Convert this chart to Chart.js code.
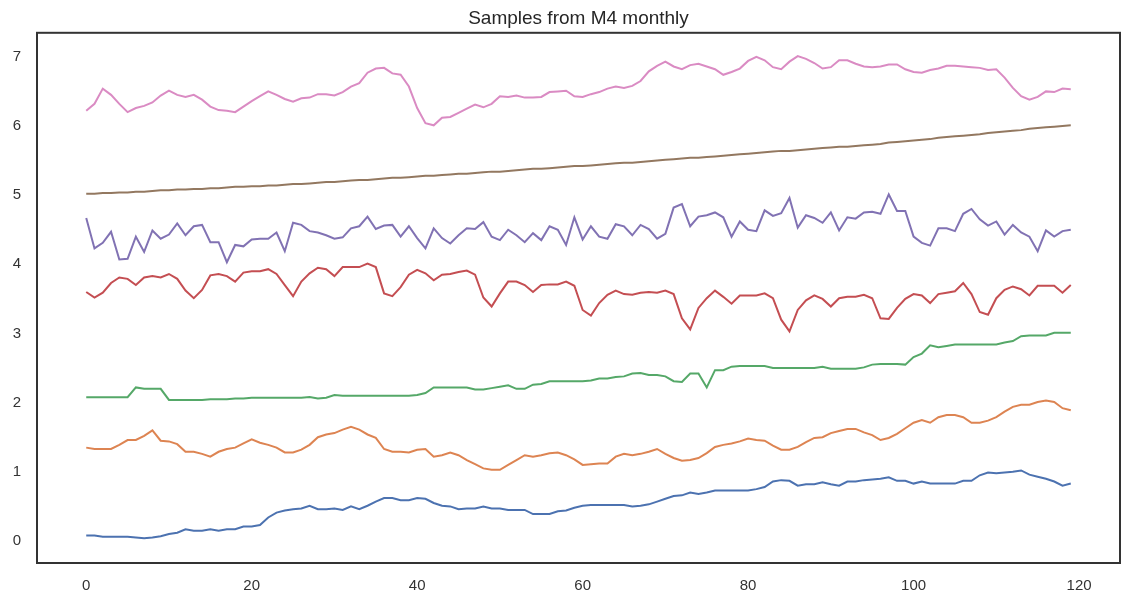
<!DOCTYPE html>
<html>
<head>
<meta charset="utf-8">
<title>Samples from M4 monthly</title>
<script src="https://cdn.jsdelivr.net/npm/chart.js@4.4.1/dist/chart.umd.min.js"></script>
<style>
  html, body { margin: 0; padding: 0; background: #fff; }
  canvas { display: block; }
</style>
</head>
<body>
<canvas id="chart" width="1122" height="594"></canvas>
<script>
// seven monthly series, one value per step 0..119
const blue = [
  0.08,0.08,0.06,0.06,0.06,0.06,0.05,0.04,0.05,0.07,
  0.10,0.12,0.17,0.15,0.15,0.17,0.15,0.17,0.17,0.21,
  0.21,0.23,0.34,0.41,0.44,0.46,0.47,0.51,0.46,0.46,
  0.47,0.45,0.50,0.46,0.51,0.57,0.62,0.62,0.59,0.59,
  0.62,0.61,0.55,0.51,0.50,0.46,0.47,0.47,0.50,0.47,
  0.47,0.45,0.45,0.45,0.39,0.39,0.39,0.43,0.44,0.48,
  0.51,0.52,0.52,0.52,0.52,0.52,0.50,0.51,0.53,0.57,
  0.61,0.65,0.66,0.70,0.68,0.70,0.73,0.73,0.73,0.73,
  0.73,0.75,0.78,0.86,0.88,0.87,0.80,0.82,0.82,0.85,
  0.82,0.80,0.86,0.86,0.88,0.89,0.90,0.92,0.87,0.87,
  0.83,0.86,0.83,0.83,0.83,0.83,0.87,0.87,0.95,0.99,
  0.98,0.99,1.00,1.02,0.96,0.93,0.90,0.86,0.80,0.83
];
const orange = [
  1.35,1.33,1.33,1.33,1.39,1.46,1.46,1.52,1.60,1.45,
  1.44,1.40,1.29,1.29,1.26,1.22,1.29,1.33,1.35,1.41,
  1.47,1.42,1.39,1.35,1.28,1.28,1.32,1.39,1.50,1.54,
  1.56,1.61,1.65,1.61,1.54,1.49,1.33,1.29,1.29,1.28,
  1.32,1.33,1.22,1.24,1.28,1.24,1.17,1.11,1.05,1.03,
  1.03,1.10,1.17,1.24,1.22,1.24,1.27,1.28,1.24,1.18,
  1.10,1.11,1.12,1.12,1.22,1.26,1.24,1.26,1.29,1.33,
  1.26,1.20,1.16,1.17,1.20,1.27,1.36,1.39,1.41,1.44,
  1.48,1.46,1.45,1.38,1.32,1.32,1.36,1.43,1.49,1.50,
  1.56,1.59,1.62,1.62,1.57,1.53,1.46,1.49,1.55,1.63,
  1.71,1.75,1.71,1.79,1.82,1.82,1.79,1.71,1.71,1.74,
  1.79,1.87,1.94,1.97,1.97,2.01,2.03,2.01,1.92,1.89
];
const green = [
  2.08,2.08,2.08,2.08,2.08,2.08,2.22,2.20,2.20,2.20,
  2.04,2.04,2.04,2.04,2.04,2.05,2.05,2.05,2.06,2.06,
  2.07,2.07,2.07,2.07,2.07,2.07,2.07,2.08,2.06,2.07,
  2.11,2.10,2.10,2.10,2.10,2.10,2.10,2.10,2.10,2.10,
  2.11,2.14,2.22,2.22,2.22,2.22,2.22,2.19,2.19,2.21,
  2.23,2.25,2.20,2.20,2.26,2.27,2.31,2.31,2.31,2.31,
  2.31,2.32,2.35,2.35,2.37,2.38,2.42,2.43,2.40,2.40,
  2.38,2.31,2.30,2.42,2.42,2.22,2.47,2.47,2.52,2.53,
  2.53,2.53,2.53,2.50,2.50,2.50,2.50,2.50,2.50,2.52,
  2.49,2.49,2.49,2.49,2.51,2.55,2.56,2.56,2.56,2.55,
  2.66,2.71,2.83,2.80,2.82,2.84,2.84,2.84,2.84,2.84,
  2.84,2.87,2.89,2.96,2.97,2.97,2.97,3.01,3.01,3.01
];
const red = [
  3.60,3.52,3.59,3.73,3.81,3.79,3.70,3.81,3.83,3.81,
  3.86,3.79,3.62,3.51,3.63,3.84,3.86,3.83,3.75,3.88,
  3.90,3.90,3.93,3.86,3.70,3.54,3.75,3.87,3.95,3.93,
  3.83,3.96,3.96,3.96,4.01,3.96,3.58,3.54,3.67,3.85,
  3.92,3.87,3.77,3.85,3.86,3.89,3.91,3.85,3.52,3.39,
  3.58,3.75,3.75,3.70,3.60,3.70,3.71,3.71,3.75,3.69,
  3.34,3.26,3.44,3.56,3.62,3.57,3.56,3.59,3.60,3.59,
  3.62,3.57,3.22,3.06,3.37,3.51,3.62,3.53,3.43,3.55,
  3.55,3.55,3.58,3.51,3.20,3.03,3.34,3.48,3.55,3.50,
  3.39,3.51,3.53,3.53,3.56,3.51,3.22,3.21,3.37,3.50,
  3.57,3.55,3.44,3.57,3.59,3.61,3.73,3.57,3.31,3.27,
  3.51,3.63,3.68,3.64,3.55,3.69,3.69,3.69,3.59,3.70
];
const purple = [
  4.67,4.23,4.31,4.47,4.07,4.08,4.40,4.18,4.49,4.37,
  4.43,4.59,4.42,4.55,4.57,4.32,4.32,4.03,4.28,4.26,
  4.36,4.37,4.37,4.46,4.19,4.60,4.57,4.48,4.46,4.42,
  4.37,4.39,4.52,4.55,4.69,4.51,4.56,4.57,4.40,4.55,
  4.38,4.23,4.52,4.38,4.30,4.42,4.52,4.51,4.61,4.40,
  4.35,4.50,4.42,4.32,4.45,4.35,4.55,4.50,4.28,4.68,
  4.36,4.55,4.40,4.37,4.58,4.55,4.42,4.57,4.51,4.37,
  4.44,4.82,4.87,4.55,4.69,4.71,4.75,4.68,4.40,4.62,
  4.50,4.48,4.78,4.70,4.74,4.96,4.53,4.71,4.67,4.60,
  4.75,4.49,4.68,4.66,4.75,4.76,4.73,5.01,4.77,4.77,
  4.40,4.31,4.27,4.52,4.52,4.48,4.73,4.80,4.65,4.56,
  4.62,4.43,4.57,4.46,4.40,4.19,4.49,4.40,4.48,4.50
];
const brown = [
  5.02,5.02,5.03,5.03,5.04,5.04,5.05,5.05,5.06,5.07,
  5.07,5.08,5.08,5.09,5.09,5.10,5.10,5.11,5.12,5.12,
  5.13,5.13,5.14,5.14,5.15,5.16,5.16,5.17,5.18,5.19,
  5.19,5.20,5.21,5.22,5.22,5.23,5.24,5.25,5.25,5.26,
  5.27,5.28,5.28,5.29,5.30,5.31,5.31,5.32,5.33,5.34,
  5.34,5.35,5.36,5.37,5.38,5.38,5.39,5.40,5.41,5.42,
  5.42,5.43,5.44,5.45,5.46,5.47,5.47,5.48,5.49,5.50,
  5.51,5.52,5.53,5.54,5.54,5.55,5.56,5.57,5.58,5.59,
  5.60,5.61,5.62,5.63,5.64,5.64,5.65,5.66,5.67,5.68,
  5.69,5.70,5.70,5.71,5.72,5.73,5.74,5.76,5.77,5.78,
  5.79,5.80,5.81,5.83,5.84,5.85,5.86,5.87,5.88,5.90,
  5.91,5.92,5.93,5.94,5.96,5.97,5.98,5.99,6.00,6.01
];
const pink = [
  6.22,6.32,6.54,6.45,6.32,6.20,6.26,6.29,6.34,6.44,
  6.51,6.45,6.42,6.45,6.38,6.28,6.23,6.22,6.20,6.28,
  6.36,6.43,6.50,6.45,6.39,6.35,6.40,6.41,6.46,6.46,
  6.44,6.49,6.57,6.62,6.77,6.83,6.84,6.76,6.74,6.57,
  6.26,6.04,6.01,6.12,6.13,6.19,6.25,6.31,6.27,6.32,
  6.43,6.42,6.44,6.41,6.41,6.42,6.49,6.50,6.51,6.43,
  6.42,6.46,6.49,6.54,6.57,6.55,6.58,6.65,6.79,6.87,
  6.93,6.86,6.82,6.88,6.90,6.86,6.82,6.74,6.78,6.83,
  6.94,7.00,6.95,6.85,6.82,6.93,7.01,6.97,6.91,6.83,
  6.85,6.95,6.95,6.90,6.86,6.85,6.86,6.89,6.89,6.82,
  6.78,6.77,6.81,6.83,6.87,6.87,6.86,6.85,6.84,6.81,
  6.82,6.70,6.55,6.43,6.38,6.42,6.50,6.49,6.54,6.53
];

const xTicks = [0, 20, 40, 60, 80, 100, 120];
const yTicks = [0, 1, 2, 3, 4, 5, 6, 7];

const series = [blue, orange, green, red, purple, brown, pink];
const colors = ['#4C72B0', '#DD8452', '#55A868', '#C44E52', '#8172B3', '#937860', '#DA8BC3'];

// dark frame round the whole plot area
const frame = {
  id: 'frame',
  afterDraw(chart) {
    const { ctx, chartArea: a } = chart;
    ctx.save();
    ctx.strokeStyle = '#333333';
    ctx.lineWidth = 2;
    ctx.strokeRect(a.left, a.top, a.right - a.left, a.bottom - a.top);
    ctx.restore();
  }
};

const font = { family: '"Liberation Sans", Arial, sans-serif', size: 15 };

new Chart(document.getElementById('chart'), {
  type: 'line',
  data: {
    datasets: series.map((s, k) => ({
      data: s.map((v, i) => ({ x: i, y: v })),
      borderColor: colors[k],
      borderWidth: 2,
      pointRadius: 0,
      tension: 0,
      fill: false
    }))
  },
  options: {
    responsive: false,
    animation: false,
    layout: { padding: { left: 0, right: 2, top: 0, bottom: 0 } },
    plugins: {
      legend: { display: false },
      tooltip: { enabled: false },
      title: {
        display: true,
        fullSize: false, // centre over the plot, not the canvas
        text: 'Samples from M4 monthly',
        color: '#262626',
        font: { family: font.family, size: 19, weight: 'normal' },
        padding: { top: 7, bottom: 3 }
      }
    },
    scales: {
      x: {
        type: 'linear',
        min: -5.95,
        max: 124.95,
        grid: { display: false, drawTicks: false },
        border: { display: false },
        afterBuildTicks: s => { s.ticks = xTicks.map(v => ({ value: v })); },
        afterFit: s => { s.height = 31; },
        ticks: { color: '#333333', font, padding: 14, maxRotation: 0 }
      },
      y: {
        min: -0.318,
        max: 7.347,
        grid: { display: false, drawTicks: false },
        border: { display: false },
        afterBuildTicks: s => { s.ticks = yTicks.map(v => ({ value: v })); },
        afterFit: s => { s.width = 37; },
        ticks: { color: '#333333', font, padding: 16 }
      }
    }
  },
  plugins: [frame]
});
</script>
</body>
</html>
